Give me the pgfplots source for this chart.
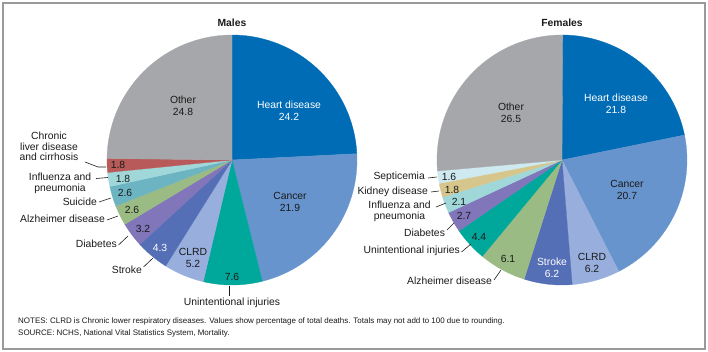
\documentclass[border=0pt]{standalone}
\usepackage{pgfplots}
\pgfplotsset{compat=1.18}
\usepackage{fontspec}
\setmainfont{Liberation Sans}
\definecolor{cHeart}{HTML}{006CB6}
\definecolor{cCancer}{HTML}{6894CE}
\definecolor{cCLRD}{HTML}{98AEDD}
\definecolor{cUnint}{HTML}{00A89C}
\definecolor{cStroke}{HTML}{556FB7}
\definecolor{cDiab}{HTML}{8076B9}
\definecolor{cAlz}{HTML}{9BBB84}
\definecolor{cSuic}{HTML}{6CB4C2}
\definecolor{cInfl}{HTML}{A0D8DA}
\definecolor{cLiver}{HTML}{B95A5A}
\definecolor{cOther}{HTML}{A6A7AA}
\definecolor{cKidney}{HTML}{D7C68B}
\definecolor{cSeptic}{HTML}{CEEAF0}
\definecolor{cFrame}{HTML}{9A9A9A}
\definecolor{cText}{HTML}{1A1A1A}
% one pie slice: centre x, centre y, value (percent), colour
\newcommand\slice[4]{%
  \pgfmathsetmacro\angA{90-3.6*\cum}%
  \pgfmathsetmacro\angB{90-3.6*(\cum+#3)}%
  \edef\doslice{\noexpand\addplot[fill=#4, draw=#4, line width=0.3pt, domain=\angB:\angA, samples=60] ({#1+125*cos(x)},{#2+125*sin(x)}) -- (axis cs:#1,#2) -- cycle;}%
  \doslice
  \pgfmathsetmacro\tmp{\cum+#3}\xdef\cum{\tmp}%
}
\tikzset{
  lab/.style={font=\fontsize{10.4}{12}\selectfont, inner sep=0pt, align=center, text=cText},
  wlab/.style={lab, text=white},
  lead/.style={draw=cText, line width=0.6pt},
}
\begin{document}
\begin{tikzpicture}
\useasboundingbox (0,0) rectangle (708bp,352bp);
\begin{axis}[at={(0,0)}, anchor=south west, x=1bp, y=1bp, scale only axis,
  xmin=0, xmax=708, ymin=0, ymax=352, hide axis, clip=false]
% ---------------- Males ----------------
\xdef\cum{0}
\slice{232}{192}{24.2}{cHeart}   % Heart disease
\slice{232}{192}{21.9}{cCancer}  % Cancer
\slice{232}{192}{7.6}{cUnint}    % Unintentional injuries
\slice{232}{192}{5.2}{cCLRD}     % CLRD
\slice{232}{192}{4.3}{cStroke}   % Stroke
\slice{232}{192}{3.2}{cDiab}     % Diabetes
\slice{232}{192}{2.6}{cAlz}      % Alzheimer disease
\slice{232}{192}{2.6}{cSuic}     % Suicide
\slice{232}{192}{1.8}{cInfl}     % Influenza and pneumonia
\slice{232}{192}{1.8}{cLiver}    % Chronic liver disease
\slice{232}{192}{24.8}{cOther}   % Other
% ---------------- Females ----------------
\xdef\cum{0}
\slice{562}{192}{21.8}{cHeart}   % Heart disease
\slice{562}{192}{20.7}{cCancer}  % Cancer
\slice{562}{192}{6.2}{cCLRD}     % CLRD
\slice{562}{192}{6.2}{cStroke}   % Stroke
\slice{562}{192}{6.1}{cAlz}      % Alzheimer disease
\slice{562}{192}{4.4}{cUnint}    % Unintentional injuries
\slice{562}{192}{2.7}{cDiab}     % Diabetes
\slice{562}{192}{2.1}{cInfl}     % Influenza and pneumonia
\slice{562}{192}{1.8}{cKidney}   % Kidney disease
\slice{562}{192}{1.6}{cSeptic}   % Septicemia
\slice{562}{192}{26.5}{cOther}   % Other

% frame
\draw[cFrame, line width=1.4pt] (axis cs:3,3) rectangle (axis cs:705,349);

% titles
\node[lab, font=\fontsize{10.4}{12}\selectfont\bfseries] at (axis cs:232,329) {Males};
\node[lab, font=\fontsize{10.4}{12}\selectfont\bfseries] at (axis cs:562,329) {Females};

% ---- Male labels ----
\node[wlab] at (axis cs:289,241) {Heart disease\\24.2};
\node[lab] at (axis cs:183,246.5) {Other\\24.8};
\node[lab] at (axis cs:290,150.5) {Cancer\\21.9};
\node[lab] at (axis cs:193,94) {CLRD\\5.2};
\node[lab] at (axis cs:232,75) {7.6};
\node[lab] at (axis cs:232,49) {Unintentional injuries};
\draw[lead] (axis cs:229,66) -- (axis cs:229,56);
\node[wlab] at (axis cs:160,104) {4.3};
\node[lab, anchor=east] at (axis cs:142,82) {Stroke};
\draw[lead] (axis cs:143.5,85) -- (axis cs:153,94);
\node[lab] at (axis cs:143,123) {3.2};
\node[lab, anchor=east] at (axis cs:117,108) {Diabetes};
\draw[lead] (axis cs:118.5,107) -- (axis cs:128,116);
\node[lab] at (axis cs:132,142) {2.6};
\node[lab, anchor=east] at (axis cs:105,133) {Alzheimer disease};
\draw[lead] (axis cs:107,132) -- (axis cs:118,136);
\node[lab] at (axis cs:125,159) {2.6};
\node[lab, anchor=east] at (axis cs:97,150) {Suicide};
\draw[lead] (axis cs:99,150) -- (axis cs:111,154);
\node[lab] at (axis cs:123,173) {1.8};
\node[lab, font=\fontsize{10.4}{11}\selectfont] at (axis cs:60,169) {Influenza and\\pneumonia};
\draw[lead] (axis cs:96,173.5) -- (axis cs:108,174.5);
\node[lab] at (axis cs:118,187) {1.8};
\node[lab, font=\fontsize{10.4}{10.6}\selectfont] at (axis cs:49,205.5) {Chronic\\liver disease\\and cirrhosis};
\draw[lead] (axis cs:85,190) -- (axis cs:98,185) -- (axis cs:106,185);

% ---- Female labels ----
\node[wlab] at (axis cs:616,248) {Heart disease\\21.8};
\node[lab] at (axis cs:511,239.5) {Other\\26.5};
\node[lab] at (axis cs:627,162) {Cancer\\20.7};
\node[lab] at (axis cs:592,89) {CLRD\\6.2};
\node[wlab] at (axis cs:552,84.5) {Stroke\\6.2};
\node[lab] at (axis cs:508,93) {6.1};
\node[lab, anchor=east] at (axis cs:492,71) {Alzheimer disease};
\draw[lead] (axis cs:494,72) -- (axis cs:501,82);
\node[lab] at (axis cs:479,115) {4.4};
\node[lab, anchor=east] at (axis cs:460,101) {Unintentional injuries};
\draw[lead] (axis cs:461.5,100) -- (axis cs:471,108);
\node[lab] at (axis cs:464,136) {2.7};
\node[lab] at (axis cs:424.5,119) {Diabetes};
\draw[lead] (axis cs:447,122) -- (axis cs:454,129);
\node[lab] at (axis cs:459,150) {2.1};
\node[lab, font=\fontsize{10.4}{11}\selectfont] at (axis cs:399.5,140.5) {Influenza and\\pneumonia};
\draw[lead] (axis cs:436,145) -- (axis cs:446,149);
\node[lab] at (axis cs:452,162) {1.8};
\node[lab, anchor=east] at (axis cs:428,160) {Kidney disease};
\draw[lead] (axis cs:431,160) -- (axis cs:439,161);
\node[lab] at (axis cs:449,175) {1.6};
\node[lab, anchor=east] at (axis cs:425,175) {Septicemia};
\draw[lead] (axis cs:428,174) -- (axis cs:437,175);

% notes
\node[lab, anchor=west, font=\fontsize{8}{9.6}\selectfont] at (axis cs:18,31) {NOTES: CLRD is Chronic lower respiratory diseases. Values show percentage of total deaths. Totals may not add to 100 due to rounding.};
\node[lab, anchor=west, font=\fontsize{8}{9.6}\selectfont] at (axis cs:18,19) {SOURCE: NCHS, National Vital Statistics System, Mortality.};
\end{axis}
\end{tikzpicture}
\end{document}
